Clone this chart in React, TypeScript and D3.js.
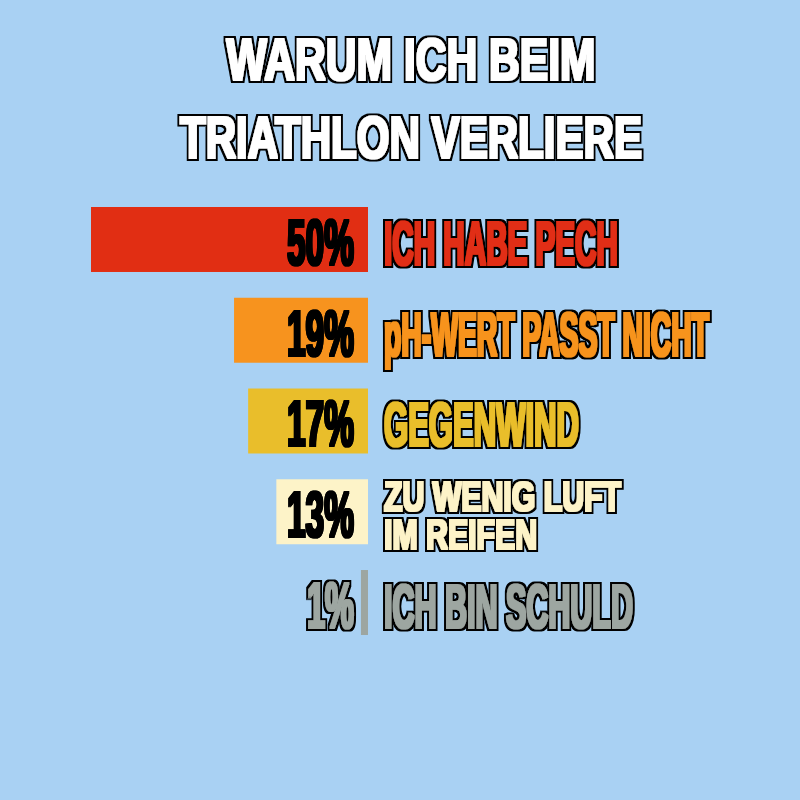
import React, { useLayoutEffect, useRef, useState } from "react";
import * as d3 from "d3";

const titleLines = ["WARUM ICH BEIM", "TRIATHLON VERLIERE"];
const categories = ["pech", "ph", "wind", "luft", "schuld"];
const values = [50, 19, 17, 13, 1];
const valueLabels = ["50%", "19%", "17%", "13%", "1%"];
const labelLines = [
  ["ICH HABE PECH"],
  ["pH-WERT PASST NICHT"],
  ["GEGENWIND"],
  ["ZU WENIG LUFT", "IM REIFEN"],
  ["ICH BIN SCHULD"],
];
const colors = ["#E12E13", "#F7931E", "#E9BE2B", "#FDF3C8", "#9DA6A1"];

// typographic widths of the condensed display face (styling)
const titleWidths = [369, 462];
const valueWidths = [67, 67, 67, 67, 47];
const labelWidths = [234, 325, 195, 237, 249];

const W = 800;
const H = 800;
const FONT = "'Liberation Sans', Arial, sans-serif";

type ST = {
  x: number;
  y: number;
  lines: string[];
  size: number;
  width: number;
  fill: string;
  anchor?: "start" | "middle" | "end";
  filter?: string;
  lineHeight?: number;
};

function ScaledText({ x, y, lines, size, width, fill, anchor = "start", filter, lineHeight = 0 }: ST) {
  const ref = useRef<SVGTextElement>(null);
  const [sx, setSx] = useState(0.5);
  useLayoutEffect(() => {
    if (ref.current) {
      const len = ref.current.getBBox().width;
      if (len > 0) setSx(width / len);
    }
  }, [lines.join("|"), width, size]);
  return (
    <g filter={filter ? `url(#${filter})` : undefined}>
      <g transform={`translate(${x},${y}) scale(${sx},1)`}>
        <text ref={ref} textAnchor={anchor} fontFamily={FONT} fontWeight="bold" fontSize={size} fill={fill}>
          {lines.map((ln, j) => (
            <tspan key={ln} x={0} y={j * lineHeight}>
              {ln}
            </tspan>
          ))}
        </text>
      </g>
    </g>
  );
}

function OutlineFilter({ id, outer, inner }: { id: string; outer: number; inner: number }) {
  return (
    <filter id={id} x="-10%" y="-30%" width="120%" height="160%">
      <feMorphology in="SourceAlpha" operator="dilate" radius={outer} result="thick" />
      <feFlood floodColor="#000" result="black" />
      <feComposite in="black" in2="thick" operator="in" result="outline" />
      <feMorphology in="SourceGraphic" operator="dilate" radius={inner} result="fat" />
      <feMerge>
        <feMergeNode in="outline" />
        <feMergeNode in="fat" />
      </feMerge>
    </filter>
  );
}

export default function App() {
  const barRight = 368;
  const x = d3.scaleLinear().domain([0, 20, 50]).range([0, 141, 277]);
  const y = d3.scaleBand<string>().domain(categories).range([207, 635]).paddingInner(0.284).paddingOuter(0);
  const bw = y.bandwidth();

  return (
    <svg width={W} height={H} style={{ position: "absolute", left: 0, top: 0, background: "#A9D1F3" }}>
      <defs>
        <OutlineFilter id="olTitle" outer={3} inner={0.6} />
        <OutlineFilter id="olLabel" outer={3} inner={1} />
        <OutlineFilter id="olSmall" outer={2.6} inner={0.8} />
        <OutlineFilter id="olNum" outer={1} inner={1} />
        <OutlineFilter id="olGray" outer={2.6} inner={0.6} />
      </defs>
      <rect x={0} y={0} width={W} height={H} fill="#A9D1F3" />
      <ScaledText
        x={411}
        y={80}
        anchor="middle"
        lines={[titleLines[0]]}
        size={60}
        width={titleWidths[0]}
        fill="#fff"
        filter="olTitle"
      />
      <ScaledText
        x={411}
        y={158}
        anchor="middle"
        lines={[titleLines[1]]}
        size={60}
        width={titleWidths[1]}
        fill="#fff"
        filter="olTitle"
      />
      {categories.map((c, i) => {
        const y0 = y(c)!;
        const w = x(values[i]);
        const lines = labelLines[i];
        const isLast = i === categories.length - 1;
        const multi = lines.length > 1;
        return (
          <g key={c}>
            <rect x={barRight - w} y={y0} width={w} height={bw} fill={colors[i]} />
            <ScaledText
              x={354}
              y={y0 + bw - 7}
              anchor="end"
              lines={[valueLabels[i]]}
              size={64}
              width={valueWidths[i]}
              fill={isLast ? colors[i] : "#000"}
              filter={isLast ? "olGray" : "olNum"}
            />
            <ScaledText
              x={384}
              y={multi ? y0 + 32 : y0 + bw - 7}
              lines={lines}
              lineHeight={38}
              size={multi ? 42 : 63}
              width={labelWidths[i]}
              fill={colors[i]}
              filter={multi ? "olSmall" : "olLabel"}
            />
          </g>
        );
      })}
    </svg>
  );
}
